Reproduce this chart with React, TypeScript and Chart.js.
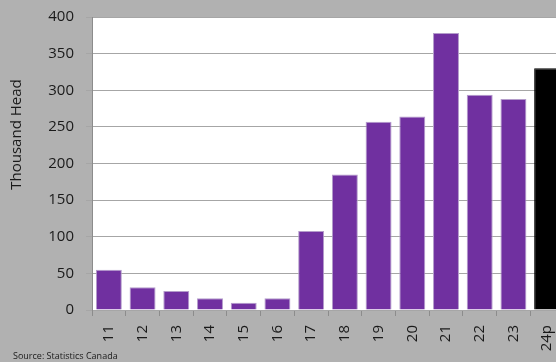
import React, { useEffect, useRef } from "react";
import { Chart, registerables } from "chart.js";

Chart.register(...registerables);

const categories = ["11", "12", "13", "14", "15", "16", "17", "18", "19", "20", "21", "22", "23", "24p"];
const values = [55, 31, 26, 16, 10, 16, 108, 185, 257, 264, 378, 294, 288, 330];
const barColors = ["#7030a0", "#7030a0", "#7030a0", "#7030a0", "#7030a0", "#7030a0", "#7030a0", "#7030a0", "#7030a0", "#7030a0", "#7030a0", "#7030a0", "#7030a0", "#000000"];
const borderColors = ["#b49ccb", "#b49ccb", "#b49ccb", "#b49ccb", "#b49ccb", "#b49ccb", "#b49ccb", "#b49ccb", "#b49ccb", "#b49ccb", "#b49ccb", "#b49ccb", "#b49ccb", "#000000"];
const yTitle = "Thousand Head";
const sourceText = "Source: Statistics Canada";

const FONT = "'Open Sans', sans-serif";

export default function App() {
  const ref = useRef<HTMLCanvasElement | null>(null);

  useEffect(() => {
    document.body.style.margin = "0";
    const canvas = ref.current;
    if (!canvas) return;

    const bgPlugin = {
      id: "plotBg",
      beforeDraw(chart: any) {
        const { ctx, chartArea } = chart;
        ctx.save();
        ctx.fillStyle = "#ffffff";
        ctx.fillRect(chartArea.left, chartArea.top, chartArea.right - chartArea.left, chartArea.bottom - chartArea.top);
        ctx.restore();
      },
      afterDraw(chart: any) {
        const { ctx, chartArea } = chart;
        ctx.save();
        ctx.fillStyle = "#1a1a1a";
        ctx.font = `15px ${FONT}`;
        ctx.textAlign = "center";
        ctx.textBaseline = "middle";
        ctx.translate(16.5, (chartArea.top + chartArea.bottom) / 2 - 29);
        ctx.rotate(-Math.PI / 2);
        ctx.fillText(yTitle, 0, 0);
        ctx.restore();
        ctx.save();
        ctx.fillStyle = "#1a1a1a";
        ctx.font = `9px ${FONT}`;
        ctx.textAlign = "left";
        ctx.textBaseline = "alphabetic";
        ctx.fillText(sourceText, 13, 359);
        ctx.restore();
      },
    };

    const chart = new Chart(canvas, {
      type: "bar",
      data: {
        labels: categories,
        datasets: [
          {
            data: values,
            backgroundColor: barColors,
            borderColor: borderColors,
            borderWidth: 1,
            categoryPercentage: 1,
            barPercentage: 0.77,
          },
        ],
      },
      options: {
        responsive: false,
        animation: false,
        layout: { padding: { top: 17, left: 0, right: 0, bottom: 0 } },
        plugins: {
          legend: { display: false },
          tooltip: { enabled: false },
        },
        scales: {
          x: {
            grid: {
              display: true,
              drawOnChartArea: false,
              drawTicks: true,
              tickLength: 6,
              color: "#8c8c8c",
              offset: true,
            },
            border: { display: true, color: "#a6a6a6" },
            ticks: {
              color: "#1a1a1a",
              font: { family: FONT, size: 15 },
              minRotation: 90,
              maxRotation: 90,
              padding: 9,
              autoSkip: false,
            },
            afterFit(scale: any) {
              scale.height = 52;
              scale.paddingLeft = 0;
              scale.paddingRight = 0;
            },
          },
          y: {
            min: 0,
            max: 400,
            ticks: {
              stepSize: 50,
              color: "#1a1a1a",
              font: { family: FONT, size: 15 },
              padding: 12,
            },
            grid: {
              color: "#a6a6a6",
              lineWidth: 1,
              tickLength: 6,
            },
            border: { display: true, color: "#8c8c8c" },
            afterFit(scale: any) {
              scale.width = 92;
              scale.paddingTop = 0;
              scale.paddingBottom = 0;
            },
          },
        },
      },
      plugins: [bgPlugin],
    });

    return () => chart.destroy();
  }, []);

  return (
    <div style={{ width: 556, height: 362, overflow: "hidden", background: "#b1b1b1", position: "relative" }}>
      <canvas ref={ref} width={564} height={362} style={{ display: "block", width: 564, height: 362 }} />
    </div>
  );
}
